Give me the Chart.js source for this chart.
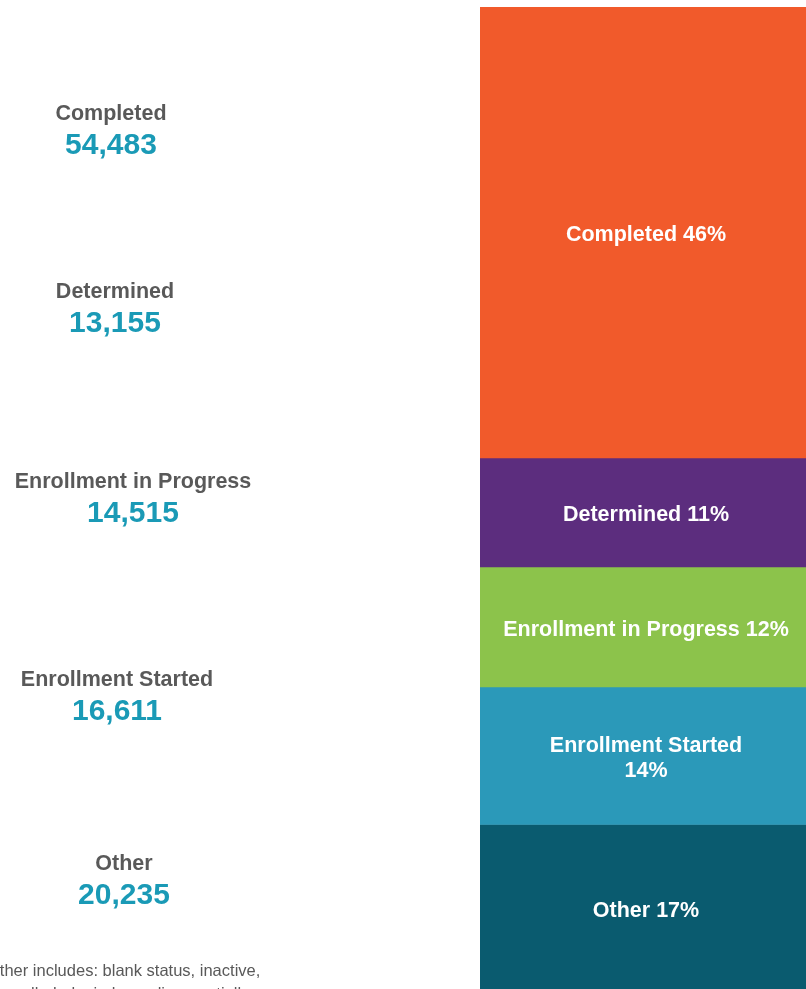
<!DOCTYPE html>
<html>
<head>
  <meta charset="utf-8">
  <title>Status breakdown</title>
  <script src="https://cdn.jsdelivr.net/npm/chart.js"></script>
  <style>
    html, body {
      margin: 0;
      padding: 0;
      background: #ffffff;
      overflow: hidden;
    }
    #wrap {
      width: 812px;
      height: 993px;
    }
  </style>
</head>
<body>
  <div id="wrap"><canvas id="statusChart" width="812" height="993"></canvas></div>

  <script>
    // data
    const statuses = ['Completed', 'Determined', 'Enrollment in Progress', 'Enrollment Started', 'Other'];
    const counts = [54483, 13155, 14515, 16611, 20235];
    const percentLabels = ['46%', '11%', '12%', '14%', '17%'];
    const colors = ['#F15A2B', '#5C2D7E', '#8CC34B', '#2B99B9', '#0A5B6F'];
    const footnote = ['Other includes: blank status, inactive,', 'cancelled, denied, pending, partially'];

    // left-hand text block (layout only)
    const sideX = [111, 115, 133, 117, 124];
    const sideY = [114, 292, 482, 680, 864];
    // segment labels that wrap
    const wrapAt = { 'Enrollment Started': true };

    const total = counts.reduce((a, b) => a + b, 0);

    const textPlugin = {
      id: 'statusText',
      afterDatasetsDraw(chart) {
        const ctx = chart.ctx;
        ctx.save();
        ctx.textAlign = 'center';
        ctx.textBaseline = 'middle';

        // labels inside the bar
        ctx.fillStyle = '#ffffff';
        ctx.font = 'bold 21.5px "Liberation Sans", Arial, sans-serif';
        chart.data.datasets.forEach((ds, i) => {
          const el = chart.getDatasetMeta(i).data[0];
          const cy = (el.y + el.base) / 2 + 3;
          const name = statuses[i];
          if (wrapAt[name]) {
            ctx.fillText(name, el.x, cy - 12.5);
            ctx.fillText(percentLabels[i], el.x, cy + 12.5);
          } else {
            ctx.fillText(name + ' ' + percentLabels[i], el.x, cy);
          }
        });

        // counts on the left
        statuses.forEach((name, i) => {
          ctx.fillStyle = '#595959';
          ctx.font = 'bold 21.5px "Liberation Sans", Arial, sans-serif';
          ctx.fillText(name, sideX[i], sideY[i]);
          ctx.fillStyle = '#1A9AB6';
          ctx.font = 'bold 30px "Liberation Sans", Arial, sans-serif';
          ctx.fillText(counts[i].toLocaleString('en-US'), sideX[i], sideY[i] + 31.5);
        });

        // footnote (runs off the left edge like the original)
        ctx.textAlign = 'left';
        ctx.fillStyle = '#595959';
        ctx.font = '16.5px "Liberation Sans", Arial, sans-serif';
        ctx.fillText(footnote[0], -13, 971);
        ctx.fillText(footnote[1], -13, 994);
        ctx.restore();
      }
    };

    const ctx = document.getElementById('statusChart').getContext('2d');
    new Chart(ctx, {
      type: 'bar',
      data: {
        labels: ['Status'],
        datasets: statuses.map((name, i) => ({
          label: name,
          data: [counts[i]],
          backgroundColor: colors[i],
          borderWidth: 0,
          barPercentage: 1,
          categoryPercentage: 1
        }))
      },
      options: {
        responsive: false,
        animation: false,
        layout: { padding: { left: 480, top: 7, right: 0, bottom: 1 } },
        plugins: {
          legend: { display: false },
          tooltip: { enabled: false }
        },
        scales: {
          x: { stacked: true, display: false },
          y: { stacked: true, display: false, reverse: true, min: 0, max: total }
        }
      },
      plugins: [textPlugin]
    });
  </script>
</body>
</html>
